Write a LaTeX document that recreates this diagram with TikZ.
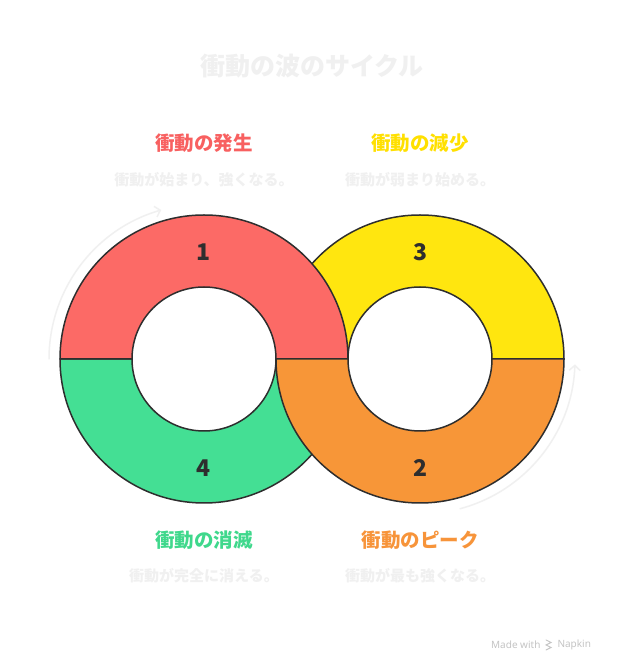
\documentclass[tikz,border=0pt]{standalone}
\usepackage{fontspec}
\newfontfamily\jp{Noto Sans CJK JP}
\newfontfamily\lat{Noto Sans}
\usetikzlibrary{arrows.meta}
\definecolor{cred}{HTML}{FC6A66}
\definecolor{cyellow}{HTML}{FFE60F}
\definecolor{corange}{HTML}{F79638}
\definecolor{cgreen}{HTML}{44DF94}
\definecolor{cline}{HTML}{2E2E2E}
\definecolor{cfaint}{HTML}{F0F0F0}
\definecolor{cmark}{HTML}{C4C4C4}
\definecolor{tred}{HTML}{F86060}
\definecolor{tyellow}{HTML}{FFE000}
\definecolor{torange}{HTML}{F7943A}
\definecolor{tgreen}{HTML}{3FD88C}
\tikzset{
  seg/.style={draw=cline, line width=1.5pt, line join=round},
  num/.style={font=\jp\bfseries\fontsize{23}{23}\selectfont, text=cline},
  head/.style={font=\jp\bfseries\fontsize{19.5}{20}\selectfont},
  sub/.style={font=\jp\bfseries\fontsize{15}{15}\selectfont, text=cfaint},
  flow/.style={draw=cfaint, line width=1.5pt, line cap=round, -{Straight Barb[length=5pt,width=11pt]}}
}
\begin{document}
\begin{tikzpicture}[x=1pt,y=1pt]
\useasboundingbox (0,0) rectangle (624,672);
\fill[white] (0,0) rectangle (624,672);
% rings
\path[seg, fill=cyellow] (276,313) arc[start angle=180,end angle=0,radius=144] -- (492,313) arc[start angle=0,end angle=180,radius=72] -- cycle;
\path[seg, fill=cgreen] (60,313) arc[start angle=180,end angle=360,radius=144] -- (276,313) arc[start angle=0,end angle=-180,radius=72] -- cycle;
\path[seg, fill=cred] (60,313) arc[start angle=180,end angle=0,radius=144] -- (276,313) arc[start angle=0,end angle=180,radius=72] -- cycle;
\path[seg, fill=corange] (276,313) arc[start angle=180,end angle=360,radius=144] -- (492,313) arc[start angle=0,end angle=-180,radius=72] -- cycle;
% flow arrows
\coordinate (lc) at (204,313);
\coordinate (rc) at (420,313);
\draw[flow] ([shift={(180:155)}]lc) arc[start angle=180,end angle=106,radius=155];
\draw[flow] ([shift={(-75:155)}]rc) arc[start angle=-75,end angle=-2,radius=155];
% numbers
\node[num] (n1) at (204,420) {1};
\node[num] (n3) at (420,420) {3};
\node[num] (n4) at (204,204) {4};
\node[num] (n2) at (420,204) {2};
% title
\node[font=\jp\bfseries\fontsize{25}{25}\selectfont, text=cfaint] (title) at (312,606) {衝動の波のサイクル};
% labels
\node[head, text=tred] (h1) at (204,529) {衝動の発生};
\node[sub] (s1) at (204,492) {衝動が始まり、強くなる。};
\node[head, text=tyellow] (h3) at (420,529) {衝動の減少};
\node[sub] (s3) at (420,492) {衝動が弱まり始める。};
\node[head, text=tgreen] (h4) at (204,132) {衝動の消滅};
\node[sub] (s4) at (204,96) {衝動が完全に消える。};
\node[head, text=torange] (h2) at (420,132) {衝動のピーク};
\node[sub] (s2) at (420,96) {衝動が最も強くなる。};
% watermark
\node[font=\lat\fontsize{10}{10}\selectfont, text=cmark, anchor=east] (mw) at (544,27) {Made with};
\node[font=\lat\fontsize{10}{10}\selectfont, text=cmark, anchor=west] (np) at (554,27) {Napkin};
\draw[cmark, line width=0.9pt, line cap=round] (546,32) -- (551,29.5) -- (546,27) -- (551,24.5) -- (546,22);
\end{tikzpicture}
\end{document}
